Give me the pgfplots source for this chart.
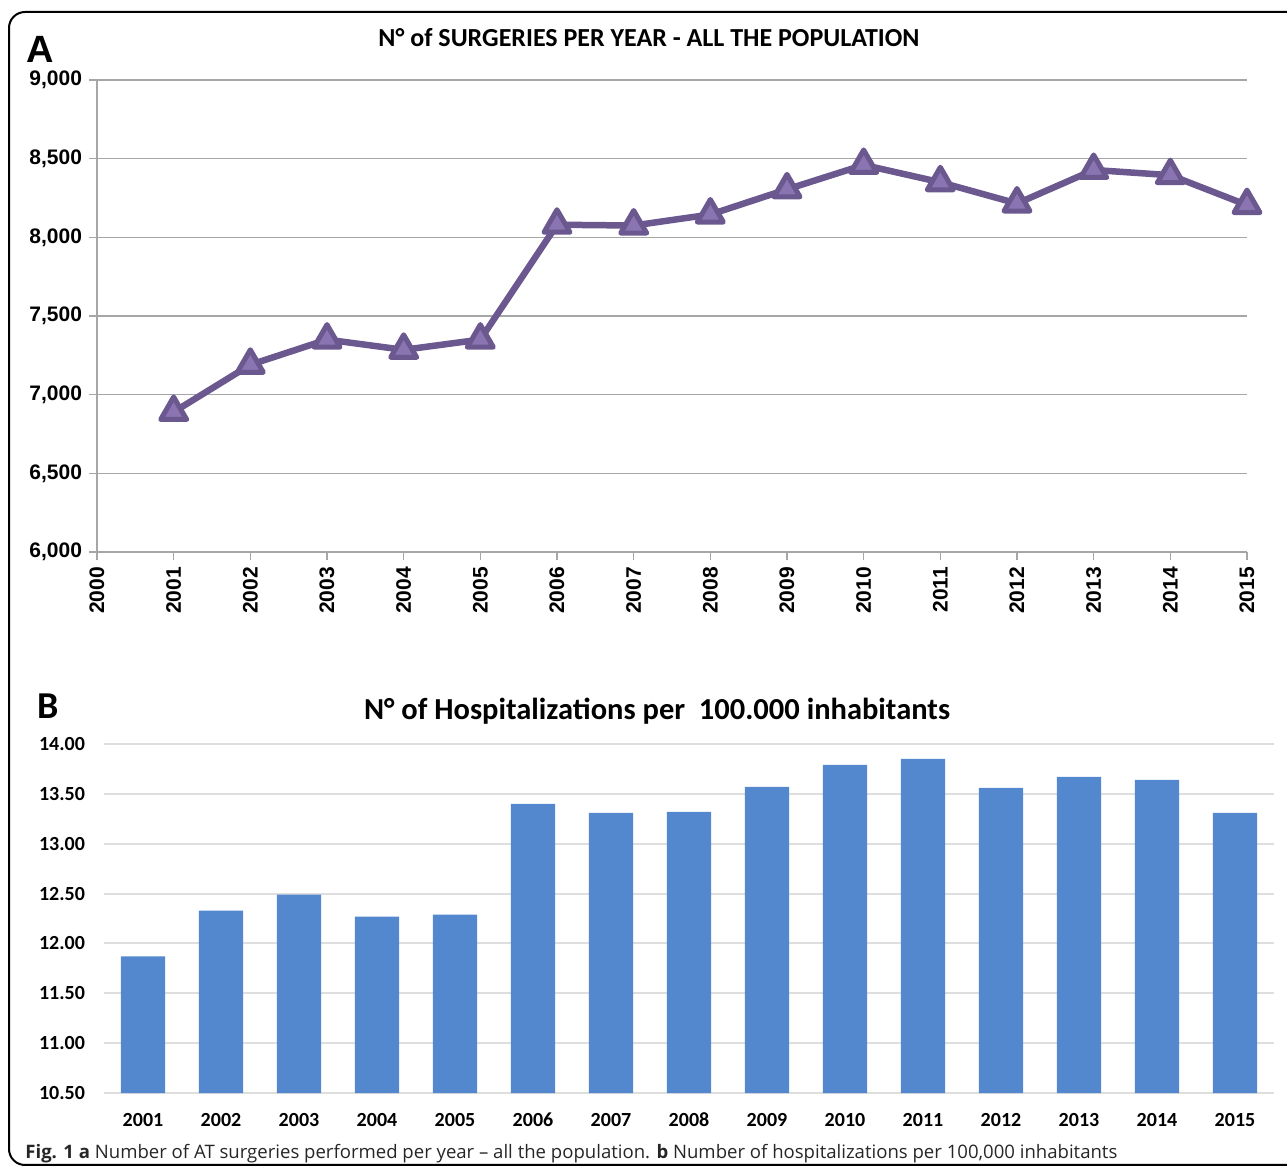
\documentclass[border=0pt]{standalone}
\usepackage{pgfplots}
\pgfplotsset{compat=1.18}
\usepackage{fontspec}
\setmainfont{Liberation Sans}
\newfontfamily\carlito{Carlito}
\newfontfamily\opensans{Open Sans}
\definecolor{lineP}{RGB}{106,88,143}
\definecolor{markP}{RGB}{138,116,178}
\definecolor{barB}{RGB}{84,136,206}
\definecolor{gridA}{RGB}{166,166,166}
\definecolor{gridB}{RGB}{222,222,222}

\begin{document}
\begin{tikzpicture}
\useasboundingbox (0,0) rectangle (643.5pt,-585pt);
\draw[line width=1pt, rounded corners=8pt] (4.5pt,-6pt) rectangle (680pt,-582.5pt);

% Panel A
\begin{axis}[at={(48.5pt,-276pt)}, anchor=south west, width=575pt, height=236pt, scale only axis,
  xmin=2000, xmax=2015, ymin=6000, ymax=9000, xtick distance=1, ytick distance=500,
  axis lines*=left, axis line style={gridA, line width=0.75pt},
  ymajorgrids, grid style={gridA, line width=0.75pt},
  tick align=outside, major tick length=4pt, tick style={gridA, line width=0.75pt},
  /pgf/number format/assume math mode=true,
  x tick label style={rotate=90, anchor=east, font=\bfseries\fontsize{10.5}{12}\selectfont,
     /pgf/number format/set thousands separator={}},
  y tick label style={font=\bfseries\fontsize{10.5}{12}\selectfont,
     /pgf/number format/set thousands separator={,}},
  clip=false]
\addplot[lineP, line width=3.25pt, line join=round, mark=triangle*, mark size=7.5pt,
  mark options={fill=markP, draw=lineP, line width=2.5pt, line join=round}]
  coordinates {(2001,6890) (2002,7190) (2003,7350) (2004,7285) (2005,7350)
               (2006,8080) (2007,8075) (2008,8145) (2009,8305) (2010,8460)
               (2011,8350) (2012,8215) (2013,8428) (2014,8395) (2015,8205)};
\end{axis}
\node[font=\carlito\bfseries\fontsize{13}{15}\selectfont] at (324.5pt,-19pt) {N° of SURGERIES PER YEAR - ALL THE POPULATION};
\node[font=\bfseries\fontsize{19}{22}\selectfont] at (20pt,-24.5pt) {A};

% Panel B
\begin{axis}[at={(52pt,-546.5pt)}, anchor=south west, width=585pt, height=174.5pt, scale only axis,
  xmin=-0.5, xmax=14.5, ymin=10.5, ymax=14, ytick distance=0.5,
  xtick={0,...,14},
  xticklabels={2001,2002,2003,2004,2005,2006,2007,2008,2009,2010,2011,2012,2013,2014,2015},
  axis line style={draw=none}, major tick length=0pt,
  ymajorgrids, grid style={gridB, line width=1pt},
  ybar, bar width=22.2pt,
  /pgf/number format/assume math mode=true,
  y tick label style={font=\carlito\bfseries\fontsize{10}{12}\selectfont, xshift=-6pt,
     /pgf/number format/.cd, fixed, fixed zerofill, precision=2},
  x tick label style={font=\carlito\bfseries\fontsize{10}{12}\selectfont, yshift=-6.5pt}]
\addplot[fill=barB, draw=none] coordinates {(0,11.87) (1,12.33) (2,12.49) (3,12.27) (4,12.29)
  (5,13.40) (6,13.31) (7,13.32) (8,13.57) (9,13.79) (10,13.85) (11,13.56) (12,13.67) (13,13.64) (14,13.31)};
\end{axis}
\node[font=\carlito\bfseries\fontsize{15.25}{18}\selectfont] at (328.5pt,-355.5pt) {N° of Hospitalizations per \ 100.000 inhabitants};
\node[font=\carlito\bfseries\fontsize{19}{22}\selectfont] at (24pt,-353pt) {B};

% Caption
\node[anchor=base west, font=\opensans\fontsize{9.28}{11}\selectfont, text=black!85, inner sep=0pt] at (12.5pt,-579.5pt)
  {\textbf{Fig. 1 a} Number of AT surgeries performed per year – all the population. \textbf{b} Number of hospitalizations per 100,000 inhabitants};
\end{tikzpicture}
\end{document}
